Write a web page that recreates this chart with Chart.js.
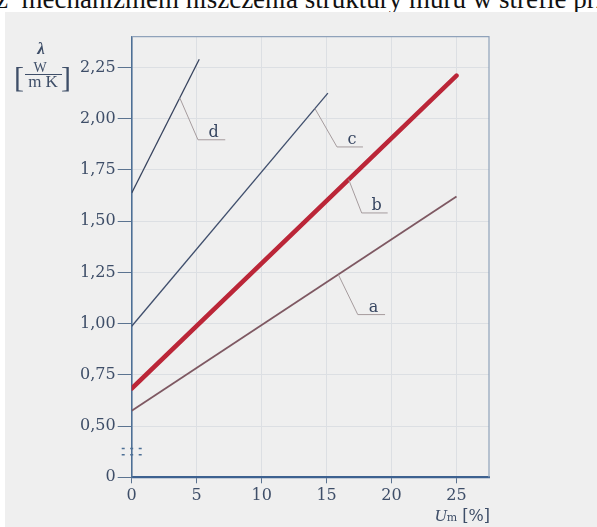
<!DOCTYPE html>
<html>
<head>
<meta charset="utf-8">
<script src="https://cdn.jsdelivr.net/npm/chart.js@4.4.1/dist/chart.umd.min.js"></script>
<style>
    html, body { margin: 0; padding: 0; background: #fff; width: 597px; height: 527px; overflow: hidden; }
    .cabecera { position: absolute; left: 0; top: 0; width: 597px; height: 12px; overflow: hidden; }
    .cabecera span { position: absolute; left: -4px; top: -14px; font: 27px/27px "Liberation Serif", serif; white-space: pre; color: #111; }
    .panel { position: absolute; left: 5px; top: 12px; width: 592px; height: 515px; background: #efefef; }
</style>
</head>
<body>
<div class="cabecera"><span>z  mechanizmem niszczenia struktury muru w strefie prz</span></div>
<div class="panel"><canvas id="lambdaChart" width="592" height="515"></canvas></div>
<script>
// Ejes (la escala de λ está cortada entre 0 y 0,50)
const umTicks = [0, 5, 10, 15, 20, 25];
const lambdaTicks = [0.25, 0.5, 0.75, 1.0, 1.25, 1.5, 1.75, 2.0, 2.25];
const lambdaTickLabels = ['0', '0,50', '0,75', '1,00', '1,25', '1,50', '1,75', '2,00', '2,25'];

// Series: wilgotność Um [%] -> λ [W/(m K)]
const seriesNames = ['a', 'b', 'c', 'd'];
const umA = [0, 25];
const lambdaA = [0.575, 1.62];
const umB = [0, 25];
const lambdaB = [0.683, 2.21];
const umC = [0, 15.1];
const lambdaC = [0.987, 2.125];
const umD = [0, 5.2];
const lambdaD = [1.637, 2.29];

// Odnośniki con letra (en unidades de los datos)
const leaderAnchorUm = [15.9, 16.7, 14.1, 3.7];
const leaderElbowUm = [17.4, 17.7, 15.8, 5.1];
const leaderElbowLambda = [1.044, 1.54, 1.862, 1.897];
const leaderEndUm = [19.5, 19.7, 17.8, 7.2];

const textColor = '#3e4e68';
const serif = '"DejaVu Serif", serif';

function puntos(xs, ys) {
    return xs.map((x, i) => ({ x: x, y: ys[i] }));
}

const marcoPlugin = {
    id: 'marco',
    beforeDatasetsDraw(chart) {
        const a = chart.chartArea;
        const ctx = chart.ctx;
        ctx.save();
        ctx.strokeStyle = '#8fa2ba';
        ctx.lineWidth = 1.2;
        ctx.beginPath();
        ctx.moveTo(a.left, a.top);
        ctx.lineTo(a.right, a.top);
        ctx.lineTo(a.right, a.bottom);
        ctx.stroke();

        // marca de corte del eje
        const y = chart.scales.y;
        ctx.strokeStyle = '#4d6f95';
        ctx.lineWidth = 1.5;
        ctx.setLineDash([3, 5.5]);
        [0.36, 0.39].forEach(v => {
            const py = y.getPixelForValue(v);
            ctx.beginPath();
            ctx.moveTo(a.left - 10, py);
            ctx.lineTo(a.left + 12, py);
            ctx.stroke();
        });
        ctx.restore();
    },
    afterDraw(chart) {
        const ctx = chart.ctx;
        const x = chart.scales.x;
        const y = chart.scales.y;
        const datasets = chart.data.datasets;
        ctx.save();

        // odnośniki a, b, c, d
        seriesNames.forEach((name, i) => {
            const d = datasets[i].data;
            const t = (leaderAnchorUm[i] - d[0].x) / (d[1].x - d[0].x);
            const anchorLambda = d[0].y + t * (d[1].y - d[0].y);
            const ax = x.getPixelForValue(leaderAnchorUm[i]);
            const ay = y.getPixelForValue(anchorLambda);
            const ex = x.getPixelForValue(leaderElbowUm[i]);
            const ey = y.getPixelForValue(leaderElbowLambda[i]);
            const fx = x.getPixelForValue(leaderEndUm[i]);
            ctx.strokeStyle = '#a59b9d';
            ctx.lineWidth = 1;
            ctx.beginPath();
            ctx.moveTo(ax, ay);
            ctx.lineTo(ex, ey);
            ctx.lineTo(fx, ey);
            ctx.stroke();
            ctx.fillStyle = '#364560';
            ctx.font = '16px ' + serif;
            ctx.textAlign = 'center';
            ctx.textBaseline = 'alphabetic';
            ctx.fillText(name, (ex + fx) / 2 + 2, ey - 3);
        });

        // título del eje Y: λ [W / m K]
        ctx.fillStyle = textColor;
        ctx.textAlign = 'center';
        ctx.textBaseline = 'alphabetic';
        ctx.font = 'italic bold 17px "Liberation Serif", serif';
        ctx.fillText('λ', 36, 42);
        ctx.font = '30px "Liberation Serif", serif';
        ctx.textAlign = 'left';
        ctx.fillText('[', 9, 75);
        ctx.fillText(']', 56, 75);
        ctx.textAlign = 'center';
        ctx.font = '14px "Liberation Serif", serif';
        ctx.fillText('W', 35, 60);
        ctx.font = '17px "Liberation Serif", serif';
        ctx.fillText('m K', 38, 75);
        ctx.strokeStyle = textColor;
        ctx.lineWidth = 1;
        ctx.beginPath();
        ctx.moveTo(20, 62.5);
        ctx.lineTo(57, 62.5);
        ctx.stroke();

        // título del eje X: Um [%]
        const right = chart.chartArea.right + 1;
        const base = 509;
        ctx.textAlign = 'left';
        ctx.font = '16px ' + serif;
        const wPct = ctx.measureText(' [%]').width;
        ctx.font = '11px ' + serif;
        const wM = ctx.measureText('m').width;
        ctx.font = 'italic 17px "Liberation Serif", serif';
        const wU = ctx.measureText('U').width;
        let px = right - wPct - wM - wU;
        ctx.fillText('U', px, base);
        px += wU;
        ctx.font = '11px ' + serif;
        ctx.fillText('m', px, base);
        px += wM;
        ctx.font = '16px ' + serif;
        ctx.fillText(' [%]', px, base);
        ctx.restore();
    }
};

document.addEventListener('DOMContentLoaded', function () {
    const ctx = document.getElementById('lambdaChart').getContext('2d');
    new Chart(ctx, {
        type: 'line',
        data: {
            datasets: [{
                label: 'a',
                data: puntos(umA, lambdaA),
                borderColor: '#7e5862',
                borderWidth: 1.8
            }, {
                label: 'b',
                data: puntos(umB, lambdaB),
                borderColor: '#bb2638',
                borderWidth: 4.5,
                borderCapStyle: 'round'
            }, {
                label: 'c',
                data: puntos(umC, lambdaC),
                borderColor: '#3f4e6c',
                borderWidth: 1.3
            }, {
                label: 'd',
                data: puntos(umD, lambdaD),
                borderColor: '#37435e',
                borderWidth: 1.3
            }]
        },
        options: {
            responsive: false,
            animation: false,
            parsing: false,
            elements: { point: { radius: 0 }, line: { tension: 0 } },
            layout: { padding: { left: 0, top: 24.7, right: 108, bottom: 0 } },
            plugins: {
                legend: { display: false },
                tooltip: { enabled: false }
            },
            scales: {
                x: {
                    type: 'linear',
                    min: 0,
                    max: 27.5,
                    afterBuildTicks: s => { s.ticks = umTicks.map(v => ({ value: v })); },
                    afterFit: s => { s.height = 49.7; },
                    ticks: {
                        color: textColor,
                        font: { family: serif, size: 16 },
                        padding: 3,
                        maxRotation: 0
                    },
                    grid: { color: '#dcdfe3', tickColor: '#5b7390', tickLength: 6, lineWidth: 1 },
                    border: { color: '#3d6190', width: 2.2 }
                },
                y: {
                    type: 'linear',
                    min: 0.25,
                    max: 2.40,
                    afterBuildTicks: s => { s.ticks = lambdaTicks.map(v => ({ value: v })); },
                    afterFit: s => { s.width = 126.7; },
                    ticks: {
                        color: textColor,
                        font: { family: serif, size: 16 },
                        padding: 2,
                        callback: (v, i) => lambdaTickLabels[i]
                    },
                    grid: { color: '#dcdfe3', tickColor: '#5b7390', tickLength: 14, lineWidth: 1 },
                    border: { color: '#4d6f95', width: 1.6 }
                }
            }
        },
        plugins: [marcoPlugin]
    });
});
</script>
</body>
</html>
